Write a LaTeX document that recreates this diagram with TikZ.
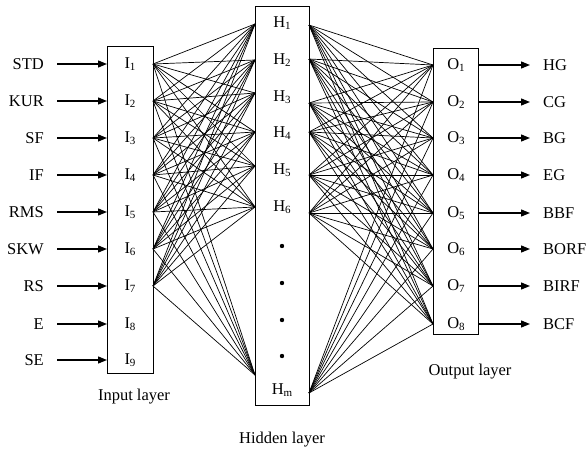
\documentclass[tikz,border=0pt]{standalone}
\usepackage{fontspec}
\setmainfont{Liberation Serif}
\usetikzlibrary{arrows.meta}
\newcommand{\sbs}[1]{\raisebox{-0.25ex}{\fontsize{11}{11}\selectfont #1}}
\begin{document}
\begin{tikzpicture}[x=1pt,y=-1pt,
  every node/.style={font=\fontsize{16.5}{18}\selectfont, inner sep=0pt},
  layerbox/.style={draw, line width=0.9pt},
  inarrow/.style={line width=1.3pt, -{Triangle[length=9pt,width=7pt]}},
  conn/.style={line width=0.7pt}]
\useasboundingbox (0,0) rectangle (586,450);
% boxes
\draw[layerbox] (107,46) rectangle (153,373);
\draw[layerbox] (255,6) rectangle (309,405);
\draw[layerbox] (433,48) rectangle (478,334);
% input nodes
\foreach \i/\lab/\y in {1/STD/64,2/KUR/101,3/SF/138,4/IF/175,5/RMS/212,6/SKW/249,7/RS/286,8/E/324,9/SE/360}{
  \node[anchor=east] (lab\i) at (44,\y) {\lab};
  \coordinate (ia\i) at (57,\y);
  \coordinate (ib\i) at (107,\y);
  \node (I\i) at (130,\y) {I\sbs{\i}};
  \coordinate (ic\i) at (153,\y);
  \draw[inarrow] (ia\i) -- (ib\i);
}
% hidden nodes
\foreach \j/\y/\yl/\yr in {1/23/24/25,2/60/60/59,3/97/93/103,4/133/132/132,5/170/166/175,6/207/207/213}{
  \node (H\j) at (282,\y) {H\sbs{\j}};
  \coordinate (hl\j) at (255,\yl);
  \coordinate (hr\j) at (309,\yr);
}
\node (Hm) at (282,390) {H\sbs{m}};
\coordinate (hl7) at (255,375);
\coordinate (hr7) at (309,393);
\foreach \y [count=\k] in {246,283,320,356}{
  \fill (282,\y) circle (2.2pt) coordinate (dot\k);
}
% output nodes
\foreach \o/\lab/\y in {1/HG/65,2/CG/102,3/BG/138,4/EG/175,5/BBF/213,6/BORF/249,7/BIRF/286,8/BCF/324}{
  \node (O\o) at (456,\y) {O\sbs{\o}};
  \coordinate (oc\o) at (433,\y);
  \coordinate (oa\o) at (478,\y);
  \coordinate (ob\o) at (530,\y);
  \node[anchor=west] (olab\o) at (543,\y) {\lab};
  \draw[inarrow] (oa\o) -- (ob\o);
}
% connections
\foreach \i in {1,...,7}{
  \foreach \j in {1,...,7}{
    \draw[conn] (ic\i) -- (hl\j);
  }
}
\foreach \j in {1,...,7}{
  \foreach \o in {1,...,8}{
    \draw[conn] (hr\j) -- (oc\o);
  }
}
% layer labels
\node (inlabel) at (134,397) {Input layer};
\node (hidlabel) at (282,440) {Hidden layer};
\node (outlabel) at (470,372) {Output layer};
\end{tikzpicture}
\end{document}
